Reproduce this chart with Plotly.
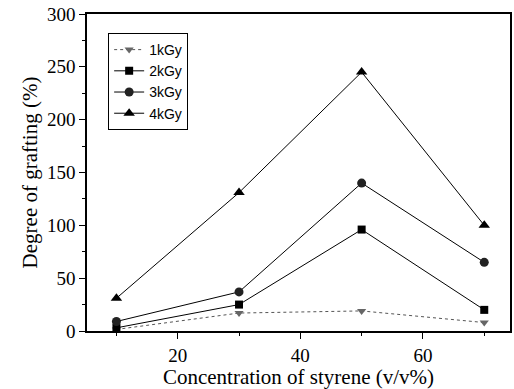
import plotly.graph_objects as go

conc = [10, 30, 50, 70]
g1 = [1.5, 17, 19, 8]
g2 = [3, 25, 96, 20]
g3 = [9, 37, 140, 65]
g4 = [31, 131, 245, 100]
names = ["1kGy", "2kGy", "3kGy", "4kGy"]

fig = go.Figure()
fig.add_trace(go.Scatter(x=conc, y=g1, name=names[0], mode="lines+markers",
                         line=dict(color="#555555", width=1, dash="dot"),
                         marker=dict(symbol="triangle-down", size=8, color="#666666")))
fig.add_trace(go.Scatter(x=conc, y=g2, name=names[1], mode="lines+markers",
                         line=dict(color="black", width=1),
                         marker=dict(symbol="square", size=8, color="black")))
fig.add_trace(go.Scatter(x=conc, y=g3, name=names[2], mode="lines+markers",
                         line=dict(color="black", width=1),
                         marker=dict(symbol="circle", size=9, color="#222222")))
fig.add_trace(go.Scatter(x=conc, y=g4, name=names[3], mode="lines+markers",
                         line=dict(color="black", width=1),
                         marker=dict(symbol="triangle-up", size=10, color="black")))

serif = "Liberation Serif, Times New Roman, serif"
fig.update_layout(
    width=514, height=389,
    margin=dict(l=87, r=2, t=14, b=58),
    plot_bgcolor="white", paper_bgcolor="white",
    font=dict(family=serif, size=19, color="black"),
    showlegend=True,
    legend=dict(x=0.05, y=0.94, xanchor="left", yanchor="top",
                bordercolor="black", borderwidth=1, bgcolor="white",
                font=dict(family="Liberation Sans, Arial, sans-serif", size=14),
                tracegroupgap=0, itemwidth=30),
    xaxis=dict(range=[5.2, 74.2], tickvals=[20, 40, 60], ticks="outside", ticklen=6,
               tickcolor="black", linecolor="black", linewidth=1.5, mirror=True,
               showgrid=False, zeroline=False,
               minor=dict(tickvals=[10, 30, 50, 70], ticks="outside", ticklen=3, tickcolor="black"),
               title=dict(text="Concentration of styrene (v/v%)", font=dict(size=21), standoff=6)),
    yaxis=dict(range=[0, 300], tickvals=[0, 50, 100, 150, 200, 250, 300], ticks="outside",
               ticklen=6, tickcolor="black", linecolor="black", linewidth=1.5, mirror=True,
               showgrid=False, zeroline=False,
               minor=dict(tickvals=[25, 75, 125, 175, 225, 275], ticks="outside", ticklen=3, tickcolor="black"),
               title=dict(text="Degree of grafting (%)", font=dict(size=21), standoff=4)),
)
fig.write_html("out.html")
